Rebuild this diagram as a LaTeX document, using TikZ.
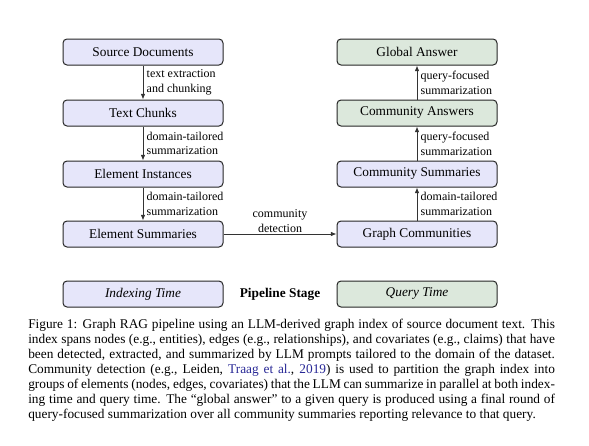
\documentclass[tikz,border=0pt]{standalone}
\usepackage{fontspec}
\setmainfont{Liberation Serif}
\usepackage{tikz}
\usetikzlibrary{arrows.meta}
\definecolor{ixfill}{RGB}{230,230,250}
\definecolor{qyfill}{RGB}{220,232,220}
\definecolor{citeblue}{RGB}{40,40,150}
\tikzset{
  ix/.style={rectangle,rounded corners=3pt,draw=black!85,fill=ixfill,line width=.75pt,
    minimum width=120pt,minimum height=19.5pt,inner sep=0pt,font=\normalsize},
  qy/.style={ix,fill=qyfill},
  flw/.style={-{Latex[length=1.5mm,width=1.2mm]},line width=.6pt,draw=black!80},
  lb/.style={font=\small,align=left,inner sep=2.5pt,anchor=west},
  ct/.style={font=\small,align=center,inner sep=1pt},
  captxt/.style={text width=395pt,align=justify,font=\normalsize,inner sep=0pt},
}
\begin{document}
\begin{tikzpicture}[x=0.75pt,y=-0.75pt]
\useasboundingbox (0,0) rectangle (589,446);
% indexing side
\node[ix] (src) at (143,52)  {Source Documents};
\node[ix] (chk) at (143,113) {Text Chunks};
\node[ix] (ins) at (143,174) {Element Instances};
\node[ix] (esm) at (143,234) {Element Summaries};
% query side
\node[qy] (glb) at (417,52)  {Global Answer};
\node[qy] (cma) at (417,113) {Community Answers};
\node[ix] (cms) at (417,174) {Community Summaries};
\node[ix] (gcm) at (417,234) {Graph Communities};
\draw[flw] (src) -- node[lb,right] {text extraction\\and chunking} (chk);
\draw[flw] (chk) -- node[lb,right] {domain-tailored\\summarization} (ins);
\draw[flw] (ins) -- node[lb,right] {domain-tailored\\summarization} (esm);
\draw[flw] (esm) -- node[ct,above] {community\\detection} (gcm);
\draw[flw] (gcm) -- node[lb,right] {domain-tailored\\summarization} (cms);
\draw[flw] (cms) -- node[lb,right] {query-focused\\summarization} (cma);
\draw[flw] (cma) -- node[lb,right] {query-focused\\summarization} (glb);
% legend
\node[ix] (lgi) at (143,294) {\itshape Indexing Time};
\node[font=\bfseries] (lgs) at (280,294) {Pipeline Stage};
\node[qy] (lgq) at (417,294) {\itshape Query Time};
% caption
\node[captxt,anchor=north west] (capt) at (28,319) {\baselineskip=11.25pt
Figure 1: Graph RAG pipeline using an LLM-derived graph index of source document text. This\linebreak
index spans nodes (e.g., entities), edges (e.g., relationships), and covariates (e.g., claims) that have\linebreak
been detected, extracted, and summarized by LLM prompts tailored to the domain of the dataset.\linebreak
Community detection (e.g., Leiden, {\color{citeblue}Traag et al.}, {\color{citeblue}2019}) is used to partition the graph index into\linebreak
groups of elements (nodes, edges, covariates) that the LLM can summarize in parallel at both index-\linebreak
ing time and query time. The “global answer” to a given query is produced using a final round of\linebreak
query-focused summarization over all community summaries reporting relevance to that query.\par};
\end{tikzpicture}
\end{document}
